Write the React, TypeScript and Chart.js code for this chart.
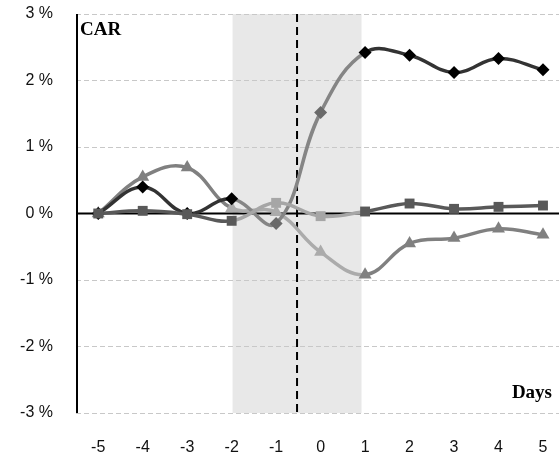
import React, { useEffect, useRef } from "react";
import { Chart, registerables } from "chart.js";

Chart.register(...registerables);

const days = [-5, -4, -3, -2, -1, 0, 1, 2, 3, 4, 5];
const yTicks = [-3, -2, -1, 0, 1, 2, 3];
const diamondValues = [0, 0.4, 0, 0.22, -0.15, 1.52, 2.42, 2.38, 2.12, 2.33, 2.16];
const squareValues = [0, 0.04, -0.01, -0.11, 0.16, -0.04, 0.03, 0.15, 0.07, 0.1, 0.12];
const triangleValues = [0, 0.55, 0.69, 0.08, 0.02, -0.58, -0.92, -0.45, -0.37, -0.23, -0.32];
const shadeRange = [-1.98, 0.92];
const eventLine = -0.53;

const inShade = (i: number) => i >= 3 && i <= 5;

function makeSet(
  values: number[],
  style: string,
  radius: number,
  lineOut: string,
  lineIn: string,
  ptOut: string,
  ptIn: string,
  ptInIdx: number[]
) {
  const pts = values.map((v, i) => ({ x: days[i], y: v }));
  const colors = values.map((_, i) => (ptInIdx.includes(i) ? ptIn : ptOut));
  return {
    data: pts,
    borderColor: lineOut,
    borderWidth: 3.5,
    tension: 0.4,
    pointStyle: style,
    pointRadius: radius,
    pointHoverRadius: radius,
    pointBackgroundColor: colors,
    pointBorderColor: colors,
    pointBorderWidth: 0,
    segment: {
      borderColor: (ctx: any) => (inShade(ctx.p0DataIndex) ? lineIn : lineOut),
    },
  };
}

const overlay = {
  id: "overlay",
  beforeDraw(chart: any) {
    const { ctx, chartArea, scales } = chart;
    const x = scales.x;
    const x0 = x.getPixelForValue(shadeRange[0]);
    const x1 = x.getPixelForValue(shadeRange[1]);
    ctx.save();
    ctx.fillStyle = "#e8e8e8";
    ctx.fillRect(x0, chartArea.top, x1 - x0, chartArea.bottom - chartArea.top);
    ctx.restore();
  },
  beforeDatasetsDraw(chart: any) {
    const { ctx, chartArea, scales } = chart;
    const y0 = scales.y.getPixelForValue(0);
    ctx.save();
    ctx.strokeStyle = "#000";
    ctx.lineWidth = 2;
    ctx.beginPath();
    ctx.moveTo(chartArea.left, y0);
    ctx.lineTo(chartArea.right, y0);
    ctx.stroke();
    ctx.beginPath();
    ctx.moveTo(chartArea.left + 1, chartArea.top);
    ctx.lineTo(chartArea.left + 1, chartArea.bottom);
    ctx.stroke();
    const xe = scales.x.getPixelForValue(eventLine);
    ctx.setLineDash([8, 5]);
    ctx.beginPath();
    ctx.moveTo(xe, chartArea.top);
    ctx.lineTo(xe, chartArea.bottom);
    ctx.stroke();
    ctx.restore();
  },
  afterDraw(chart: any) {
    const { ctx, chartArea } = chart;
    ctx.save();
    ctx.fillStyle = "#000";
    ctx.font = "bold 19px 'Liberation Serif', 'Times New Roman', serif";
    ctx.textBaseline = "middle";
    ctx.textAlign = "left";
    ctx.fillText("CAR", chartArea.left + 4, chartArea.top + 16);
    ctx.textAlign = "right";
    ctx.fillText("Days", chartArea.right - 7, chartArea.bottom - 20);
    ctx.restore();
  },
};

export default function App() {
  const ref = useRef<HTMLCanvasElement>(null);
  useEffect(() => {
    if (!ref.current) return;
    const chart = new Chart(ref.current, {
      type: "line",
      data: {
        datasets: [
          makeSet(squareValues, "rect", 7, "#595959", "#a6a6a6", "#595959", "#a6a6a6", [4, 5]),
          makeSet(diamondValues, "rectRot", 6.5, "#333333", "#858585", "#000000", "#6a6a6a", [4, 5]),
          makeSet(triangleValues, "triangle", 7.5, "#808080", "#ababab", "#808080", "#ababab", [3, 4, 5]),
        ] as any,
      },
      options: {
        animation: false,
        responsive: false,
        devicePixelRatio: 1,
        layout: { autoPadding: false, padding: { top: 14, left: 0, right: 0, bottom: 0 } },
        plugins: { legend: { display: false }, tooltip: { enabled: false } },
        scales: {
          x: {
            type: "linear",
            min: -5.5,
            max: 5.36,
            grid: { display: false, drawTicks: false },
            border: { display: false },
            afterBuildTicks: (scale: any) => {
              scale.ticks = days.map((v) => ({ value: v }));
            },
            afterFit: (scale: any) => {
              scale.height = 51;
              scale.paddingLeft = 0;
              scale.paddingRight = 0;
            },
            ticks: {
              padding: 25,
              maxRotation: 0,
              autoSkip: false,
              color: "#111",
              font: { family: "'Liberation Sans', Arial, sans-serif", size: 16 },
              callback: (v: any) => String(v),
            },
          },
          y: {
            min: -3,
            max: 3,
            afterBuildTicks: (scale: any) => {
              scale.ticks = yTicks.map((v) => ({ value: v }));
            },
            afterFit: (scale: any) => {
              scale.width = 76;
              scale.paddingTop = 0;
              scale.paddingBottom = 0;
            },
            grid: {
              drawTicks: false,
              color: (ctx: any) => (ctx.tick && ctx.tick.value === 0 ? "rgba(0,0,0,0)" : "#c8c8c8"),
              lineWidth: 1,
            },
            border: { display: false, dash: [5, 3] },
            ticks: {
              padding: 23,
              color: "#111",
              font: { family: "'Liberation Sans', Arial, sans-serif", size: 16 },
              callback: (v: any) => `${v} %`,
            },
          },
        },
      },
      plugins: [overlay],
    });
    return () => chart.destroy();
  }, []);
  return (
    <div style={{ position: "absolute", left: 0, top: 0, width: 559, height: 464 }}>
      <canvas ref={ref} width={559} height={464} />
    </div>
  );
}
